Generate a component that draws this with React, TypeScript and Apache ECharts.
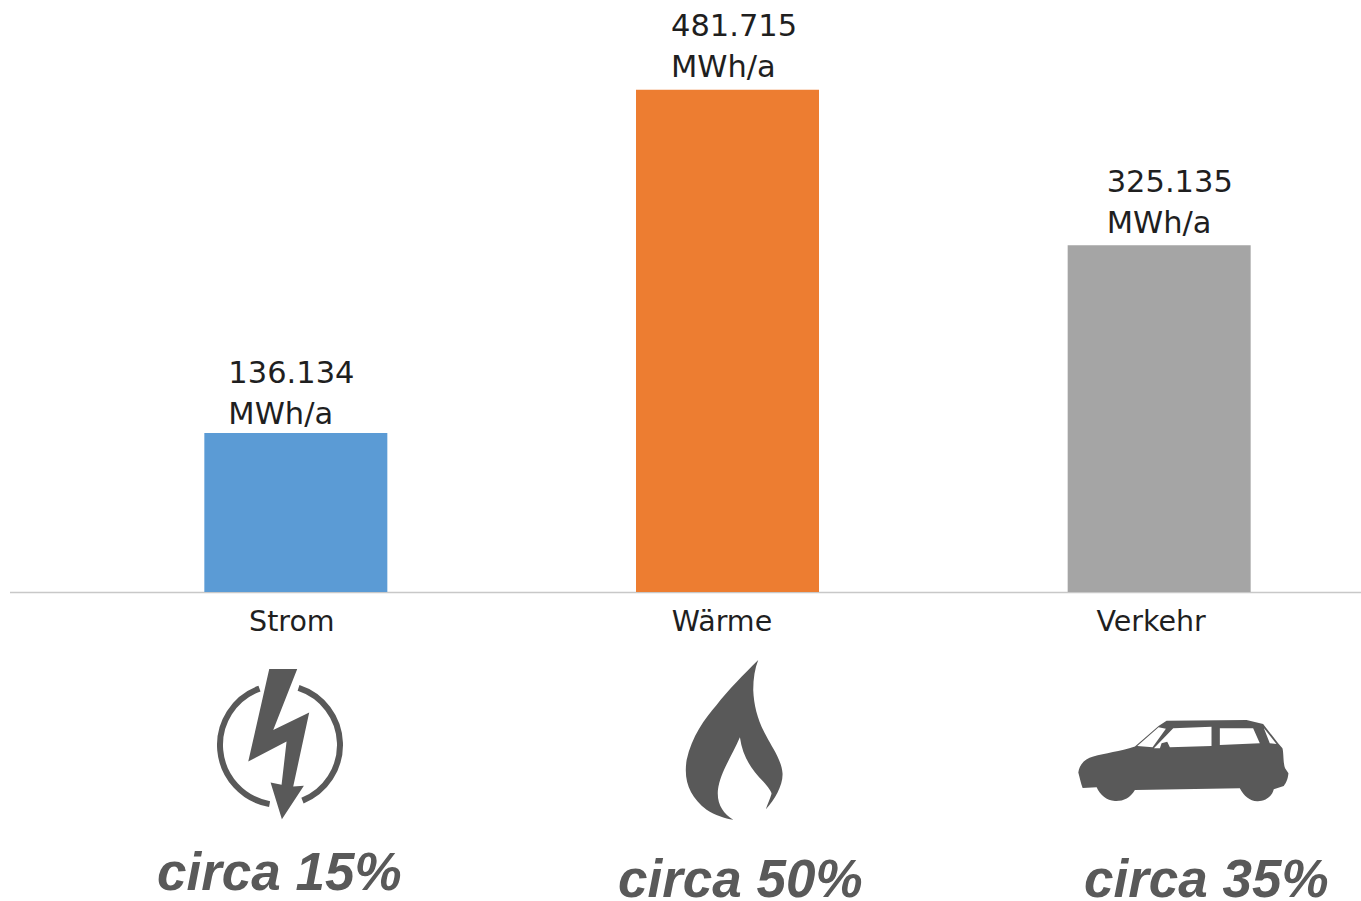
import React, { useEffect, useRef } from "react";
import * as echarts from "echarts";

const categories = ["Strom", "Wärme", "Verkehr"];
const values = [136134, 481715, 325135];
const valueLabels = ["136.134", "481.715", "325.135"];
const unit = "MWh/a";
const shares = ["circa 15%", "circa 50%", "circa 35%"];
const barColors = ["#5B9BD5", "#ED7D31", "#A5A5A5"];
const labelOffsetsX = [24, 35, 39];
const labelOffsetsY = [1, -3, -2];
const catPadding = [8, 11, 16];
const AXIS_MIN = -24000;
const AXIS_MAX = 572000;

const ICON = "#595959";
const TEXT_FONT = "'DejaVu Sans'";
const boltD = "M268 57L352 57L280 240L388 188L340 410L372 408L306 508L272 398L305 405L320 275L205 335Z";
const flameD = "M325 30C280 75 235 120 200 165C165 205 125 260 110 330C100 395 120 440 170 480C195 497 225 506 250 510C220 490 200 465 204 420C210 370 245 320 270 262C278 320 305 360 340 395C355 412 365 425 365 432C360 450 352 465 348 478C375 450 400 405 398 370C395 330 365 290 350 260C325 215 312 170 310 120C310 85 315 55 325 30Z";
const carD = "M55 218C58 195 72 178 100 170C135 160 180 155 225 140L296 78L320 62L560 60L610 72L655 130L668 145C672 160 670 190 676 205L686 220C684 240 678 250 672 258L642 268C635 295 610 305 592 304C570 303 552 288 540 265L225 270C210 295 190 304 165 303C140 302 120 285 110 262L68 264C62 250 60 235 55 218ZM296 82L232 138L278 142L318 86ZM340 85L282 145L300 145L305 130L322 125L330 142L455 138L455 80ZM480 85L480 135L600 130L580 85ZM612 84L630 130L650 132Z";

echarts.graphic.registerShape("boltIcon", echarts.graphic.extendPath(boltD, {}));
echarts.graphic.registerShape("flameIcon", echarts.graphic.extendPath(flameD, {}));
echarts.graphic.registerShape("carIcon", echarts.graphic.extendPath(carD, {}));

const deg = (d: number) => (d * Math.PI) / 180;
const BAR_WIDTH = 183;

export default function App() {
  const ref = useRef<HTMLDivElement>(null);
  useEffect(() => {
    const chart = echarts.init(ref.current!, null, { renderer: "svg" });
    const shareStyle = {
      fill: ICON,
      font: "italic bold 53px 'Liberation Sans'",
      lineHeight: 44,
      textAlign: "left",
      textVerticalAlign: "middle",
    };
    chart.setOption({
      animation: false,
      backgroundColor: "#ffffff",
      grid: { left: 80, width: 1295, top: 0, height: 592, containLabel: false, outerBoundsMode: "none" },
      xAxis: {
        type: "category",
        data: categories,
        axisLine: { show: false },
        axisTick: { show: false },
        axisLabel: {
          margin: 15,
          interval: 0,
          fontFamily: TEXT_FONT,
          fontSize: 28.5,
          formatter: (v: string) => `{c${categories.indexOf(v)}|${v}}`,
          rich: Object.fromEntries(
            catPadding.map((p, i) => [
              `c${i}`,
              { padding: [0, p, 0, 0], color: "#1f1f1f", fontFamily: TEXT_FONT, fontSize: 28.5 },
            ])
          ),
        },
      },
      yAxis: { type: "value", min: AXIS_MIN, max: AXIS_MAX, show: false },
      series: [
        {
          type: "custom",
          data: values.map((v, i) => [i, v]),
          encode: { x: 0, y: 1 },
          renderItem: (params: any, api: any) => {
            const i = api.value(0);
            const [cx, top] = api.coord([i, api.value(1)]);
            const [, bottom] = api.coord([i, AXIS_MIN]);
            const left = cx - BAR_WIDTH / 2;
            return {
              type: "group",
              children: [
                {
                  type: "rect",
                  shape: { x: left, y: top, width: BAR_WIDTH, height: bottom - top },
                  style: { fill: barColors[i] },
                },
                {
                  type: "text",
                  x: left + labelOffsetsX[i],
                  y: top + labelOffsetsY[i],
                  style: {
                    text: `${valueLabels[i]}\n${unit}`,
                    fill: "#1f1f1f",
                    font: `30.5px ${TEXT_FONT}`,
                    lineHeight: 41,
                    textAlign: "left",
                    textVerticalAlign: "bottom",
                  },
                },
              ],
            };
          },
        },
      ],
      graphic: [
        { type: "line", shape: { x1: 10, y1: 592.5, x2: 1361, y2: 592.5 }, style: { stroke: "#C8C8C8", lineWidth: 1.5 } },
        { type: "boltIcon", x: 180, y: 650, scaleX: 1 / 3, scaleY: 1 / 3, style: { fill: ICON } },
        { type: "arc", shape: { cx: 280, cy: 745, r: 60, startAngle: deg(100), endAngle: deg(250), clockwise: true }, style: { stroke: ICON, lineWidth: 6, fill: "none" } },
        { type: "arc", shape: { cx: 280, cy: 745, r: 60, startAngle: deg(-72), endAngle: deg(68), clockwise: true }, style: { stroke: ICON, lineWidth: 6, fill: "none" } },
        { type: "flameIcon", x: 650, y: 650, scaleX: 1 / 3, scaleY: 1 / 3, style: { fill: ICON } },
        { type: "carIcon", x: 1060, y: 700, scaleX: 1 / 3, scaleY: 1 / 3, style: { fill: ICON } },
        { type: "text", x: 157, y: 871, style: { ...shareStyle, text: shares[0] } },
        { type: "text", x: 618, y: 878, style: { ...shareStyle, text: shares[1] } },
        { type: "text", x: 1084, y: 878, style: { ...shareStyle, text: shares[2] } },
      ],
    });
    return () => chart.dispose();
  }, []);
  return <div ref={ref} style={{ position: "absolute", left: 0, top: 0, width: 1361, height: 901 }} />;
}
